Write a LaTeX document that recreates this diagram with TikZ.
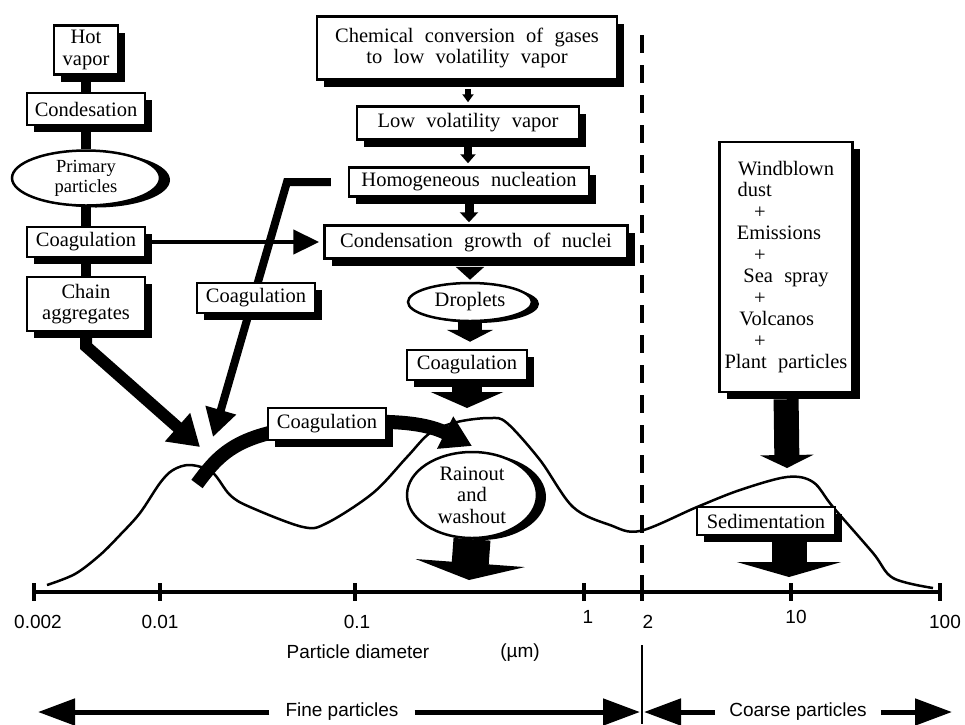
\documentclass[tikz,border=0pt]{standalone}
\usepackage{fontspec}
\setmainfont{Liberation Serif}
\newfontfamily\axisfont{Liberation Sans}
\usetikzlibrary{arrows.meta,shapes.geometric,shadows}

\newcommand\boxfont{\fontsize{20.5}{21.5}\selectfont\spaceskip=0.55em plus 0.1em minus 0.05em\relax}
\newcommand\smallboxfont{\fontsize{18.5}{20}\selectfont}
\newcommand\scalefont{\axisfont\fontsize{19}{21}\selectfont}

\tikzset{
  box/.style={rectangle, draw, line width=2.5pt, fill=white, inner sep=0pt, align=center, font=\boxfont,
    drop shadow={shadow xshift=7pt, shadow yshift=-7pt, fill=black, opacity=1}},
  blob/.style={ellipse, draw, line width=2.5pt, fill=white, inner sep=0pt, align=center, font=\boxfont,
    drop shadow={shadow xshift=#1, shadow yshift=-2pt, fill=black, opacity=1}},
  blob/.default=9pt,
  colbar/.style={line width=10pt},
  thin arrow/.style={line width=4.5pt, -{Triangle[width=24pt,length=26pt]}},
  block arrow/.style n args={3}{line width=#1, -{Triangle[width=#2,length=#3]}},
  dim arrow/.style={line width=5pt, -{Triangle[width=26pt,length=37pt]}},
  scaletick/.style={line width=3.5pt},
  tick label/.style={font=\scalefont, inner sep=0pt},
}

\begin{document}
\begin{tikzpicture}[x=1pt, y=-1pt]
\useasboundingbox (0,0) rectangle (965,724);

% size distribution
\draw[line width=2.5pt] plot[smooth, tension=0.55] coordinates {
  (47,585) (75,574) (100,555) (120,535) (140,513) (160,483) (173,470) (190,465)
  (212,472) (230,495) (250,507) (303,527) (327,523) (373,493) (407,457) (430,433)
  (457,422) (490,418) (507,423) (540,460) (573,507) (610,525) (640,531) (697,507)
  (740,490) (787,477) (813,482) (833,507) (873,553) (893,578) (933,588)};

% fine / coarse divider
\coordinate (divTop) at (642,35);
\coordinate (divAxis) at (642,592);
\coordinate (divLow) at (642,645);
\coordinate (divEnd) at (642,724);
\draw[line width=3.5pt, dash pattern=on 18pt off 12pt] (divTop) -- (divAxis);
\draw[line width=2.5pt] (divLow) -- (divEnd);

% axis
\coordinate (axL) at (35,592);
\coordinate (axR) at (940,592);
\draw[line width=4.5pt] (axL) -- (axR);
\foreach \x in {34,160,355,584,642,791,940}
  \draw[scaletick] (\x,583) -- (\x,601);
\foreach \x/\y/\t [count=\i] in {38/622/0.002, 160/622/0.01, 357/622/0.1, 588/617/1, 648/622/2, 796/617/10, 945/622/100}
  \node[tick label] (lab\i) at (\x,\y) {\t};
\node[font=\scalefont, inner sep=0pt] (xlab) at (358,652) {Particle diameter};
\node[font=\scalefont, inner sep=0pt] (unit) at (520,653) {(µm)};

% range arrows
\coordinate (fineL) at (38,712);
\coordinate (fineR) at (640,712);
\coordinate (coarseL) at (644,712);
\coordinate (coarseR) at (952,712);
\node[font=\scalefont, inner xsep=16pt, inner ysep=0pt] (fine) at (342,712) {Fine particles};
\node[font=\scalefont, inner xsep=14pt, inner ysep=0pt] (coarse) at (798,712) {Coarse particles};
\draw[dim arrow] (fine.west) -- (fineL);
\draw[dim arrow] (fine.east) -- (fineR);
\draw[dim arrow] (coarse.west) -- (coarseL);
\draw[dim arrow] (coarse.east) -- (coarseR);

% left column
\node[box, minimum width=64pt, minimum height=49pt] (hot) at (86,50) {Hot\\vapor};
\node[box, minimum width=118pt, minimum height=32pt] (condes) at (86,109) {Condesation};
\node[blob=10pt, font=\smallboxfont, minimum width=148pt, minimum height=55pt] (prim) at (86,178) {Primary\\particles};
\node[box, minimum width=118pt, minimum height=30pt] (coagL) at (86,242) {Coagulation};
\node[box, minimum width=118pt, minimum height=54pt] (chain) at (86,304) {Chain\\aggregates};
\draw[colbar] (hot.south) -- (condes.north);
\draw[colbar] (condes.south) -- (prim.north);
\draw[colbar] (prim.south) -- (coagL.north);
\draw[colbar] (coagL.south) -- (chain.north);

% center column
\node[box, minimum width=300pt, minimum height=63pt] (chem) at (467,48) {Chemical conversion of gases\\to low volatility vapor};
\node[box, minimum width=222pt, minimum height=33pt] (lowvol) at (468,123) {Low volatility vapor};
\node[box, minimum width=240pt, minimum height=29pt] (homog) at (469,182) {Homogeneous nucleation};
\node[box, minimum width=303pt, minimum height=33pt] (condgr) at (476,242) {Condensation growth of nuclei};
\node[blob=7pt, minimum width=124pt, minimum height=38pt] (drop) at (470,302) {Droplets};
\node[box, minimum width=120pt, minimum height=30pt] (coagC) at (467,365) {Coagulation};
\draw[block arrow={6pt}{11pt}{8pt}, shorten <=8pt, shorten >=3pt] (lowvol.north |- chem.south) -- (lowvol.north);
\draw[block arrow={8pt}{15pt}{9pt}, shorten <=6pt, shorten >=3pt] (lowvol.south) -- (lowvol.south |- homog.north);
\draw[block arrow={9pt}{18pt}{10pt}, shorten <=6pt, shorten >=2pt] (homog.south) -- (homog.south |- condgr.north);
\draw[block arrow={12pt}{28pt}{13pt}, shorten <=7pt, shorten >=2pt] (drop.north |- condgr.south) -- (drop.north);
\draw[block arrow={24pt}{46pt}{12pt}, shorten >=7pt] (drop.south) -- (drop.south |- coagC.north);
\coordinate (coagTip) at (467,408);
\draw[block arrow={30pt}{72pt}{16pt}, shorten <=5pt] (coagC.south) -- (coagTip);

% coagulation towards the nuclei mode
\draw[thin arrow, shorten <=5pt, shorten >=4pt] (coagL.east) -- (condgr.west);
\coordinate (bendA) at (287,182);
\coordinate (mTip) at (213,437);
\draw[line width=8pt, -{Triangle[width=30pt,length=28pt]}, shorten <=17pt] (homog.west) -- (bendA) -- (mTip);
\node[box, minimum width=118pt, minimum height=30pt] (coagM) at (256,298) {Coagulation};
\coordinate (chTip) at (200,447);
\draw[line width=12pt, -{Triangle[width=36pt,length=30pt]}] (chain.south) -- ++(0,14) -- (chTip);

% coagulation along the distribution
\coordinate (cStart) at (197,484);
\coordinate (cMid) at (327,424);
\coordinate (cTip) at (472,446);
\draw[line width=14pt, -{Triangle[width=34pt,length=30pt]}] (cStart) .. controls (222,450) and (240,432) .. (cMid)
  .. controls (400,418) and (430,425) .. (cTip);
\node[box, minimum width=118pt, minimum height=32pt] (coagCv) at (cMid) {Coagulation};

% removal
\node[blob=9pt, minimum width=130pt, minimum height=86pt] (rain) at (472,495) {Rainout\\and\\washout};
\coordinate (rainTip) at (469,580);
\draw[block arrow={37pt}{109pt}{17pt}] (rain.south) -- (rainTip);

% coarse mode sources
\node[box, minimum width=133pt, minimum height=250pt] (wind) at (786,267)
  {Windblown\\\makebox[4.72em][l]{dust}\\\makebox[3.1em][l]{+}\\\makebox[4.8em][l]{Emissions}\\\makebox[3.1em][l]{+}\\Sea spray\\\makebox[3.1em][l]{+}\\\makebox[4.55em][l]{Volcanos}\\\makebox[3.1em][l]{+}\\Plant particles};
\coordinate (windTip) at (787,468);
\draw[block arrow={25pt}{53pt}{13pt}, shorten <=6pt] (wind.south) -- (windTip);
\node[box, minimum width=138pt, minimum height=28pt] (sedim) at (766,521) {Sedimentation};
\coordinate (sedTip) at (789,577);
\draw[block arrow={35pt}{104pt}{15pt}] (sedim.south -| sedTip) -- (sedTip);
\end{tikzpicture}
\end{document}
